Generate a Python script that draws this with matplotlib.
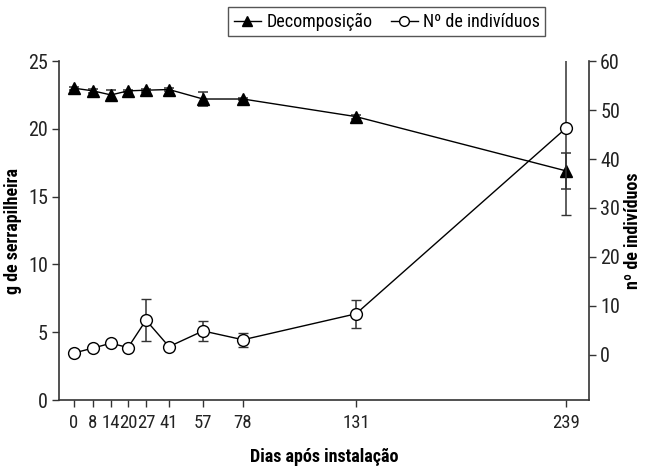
import matplotlib
matplotlib.use('Agg')  # no display in the sandbox
import matplotlib.pyplot as plt
from matplotlib import font_manager as fm
from matplotlib.lines import Line2D
import numpy as np

# Data
dias = [0, 8, 14, 20, 27, 41, 57, 78, 131, 239]
decomposicao = [23.0, 22.8, 22.5, 22.8, 22.85, 22.9, 22.2, 22.2, 20.9, 16.9]
decomposicao_err = [0.1, 0.15, 0.35, 0.1, 0.1, 0.1, 0.5, 0.1, 0.15, 1.35]
individuos = [0.4, 1.4, 2.4, 1.5, 7.1, 1.7, 4.9, 3.1, 8.4, 46.3]
individuos_err = [0.0, 0.0, 0.0, 0.0, 4.3, 0.0, 2.0, 1.45, 2.9, 17.8]

# The original uses a narrow sans; pick whatever condensed face is installed
narrow_name, narrow_stretch = 'DejaVu Sans', 'normal'
preferred = ['Liberation Sans Narrow', 'Roboto Condensed', 'Open Sans Condensed',
             'Noto Sans Condensed', 'DejaVu Sans Condensed']
found = {}
for f in fm.fontManager.ttflist:
    st = str(f.stretch)
    if 'Narrow' in f.name or 'Condensed' in f.name or st in ('condensed', 'semi-condensed', '75', '87'):
        found.setdefault(f.name, st)
for name in preferred:
    if name in found:
        narrow_name, narrow_stretch = name, found[name]
        break
else:
    if found:
        narrow_name = sorted(found)[0]
        narrow_stretch = found[narrow_name]

plt.rcParams['font.family'] = [narrow_name, 'DejaVu Sans']
plt.rcParams['font.stretch'] = narrow_stretch

# The day axis in the original is hand spaced, not linear:
# piecewise scale with knots at the labelled days (pixel offsets from the left spine)
knot_days = [-6.3, 0, 8, 14, 20, 27, 41, 57, 78, 131, 239, 250.8]
knot_pos = [0, 15, 34, 52, 69, 87, 110, 144, 184, 297, 507, 530]


def forward(d):
    return np.interp(d, knot_days, knot_pos)


def inverse(p):
    return np.interp(p, knot_pos, knot_days)


fig = plt.figure(figsize=(6.47, 4.66), dpi=100)
ax = fig.add_axes([0.0912, 0.1416, 0.8192, 0.7274])
ax2 = ax.twinx()

ax.set_xscale('function', functions=(forward, inverse))
ax.set_xlim(knot_days[0], knot_days[-1])
ax.set_ylim(0, 25)
ax2.set_ylim(-9.2, 60)

# 1. Decomposition (left axis)
ax.errorbar(dias, decomposicao, yerr=decomposicao_err, color='black', lw=1,
            marker='^', ms=8.5, mfc='black', mec='black',
            ecolor='#333333', elinewidth=1.1, capsize=3.5, capthick=1.1, zorder=3)

# 2. Number of individuals (right axis)
ax2.errorbar(dias, individuos, yerr=individuos_err, color='black', lw=1,
             marker='o', ms=8.5, mfc='white', mec='black', mew=1,
             ecolor='#333333', elinewidth=1.1, capsize=3.5, capthick=1.1, zorder=3)

ax.set_xticks(dias)
ax.set_xticklabels([str(d) for d in dias])
ax.set_yticks([0, 5, 10, 15, 20, 25])
ax2.set_yticks([0, 10, 20, 30, 40, 50, 60])

for a in (ax, ax2):
    a.spines['top'].set_visible(False)
    for s in a.spines.values():
        s.set_color('#333333')
        s.set_linewidth(1.2)
    a.tick_params(direction='out', length=5, width=1, colors='#333333',
                  labelsize=14.5, labelcolor='#222222', pad=3)
ax.spines['right'].set_visible(False)
ax2.spines['left'].set_visible(False)
ax2.spines['bottom'].set_visible(False)
ax.tick_params(axis='x', pad=5, labelsize=13.5)

ax.set_xlabel('Dias após instalação', fontsize=13, fontweight='bold')
ax.set_ylabel('g de serrapilheira', fontsize=13, fontweight='bold')
ax2.set_ylabel('nº de indivíduos', fontsize=13, fontweight='bold')
ax.xaxis.set_label_coords(0.5, -0.142)
ax.yaxis.set_label_coords(-0.07, 0.5)
ax2.yaxis.set_label_coords(1.066, 0.5)

# Legend with plain line+marker handles (no error bars)
handles = [Line2D([], [], color='black', lw=1, marker='^', ms=7, mfc='black', mec='black'),
           Line2D([], [], color='black', lw=1, marker='o', ms=7, mfc='white', mec='black')]
leg = fig.legend(handles, ['Decomposição', 'Nº de indivíduos'], loc='center',
                 bbox_to_anchor=(0.598, 0.953), ncol=2, fontsize=13, fancybox=False,
                 framealpha=1, edgecolor='#555555', handlelength=1.5, handletextpad=0.3,
                 columnspacing=1.0, borderpad=0.3)
leg.get_frame().set_linewidth(1)

fig.savefig('out.png', dpi=100)
plt.close(fig)
